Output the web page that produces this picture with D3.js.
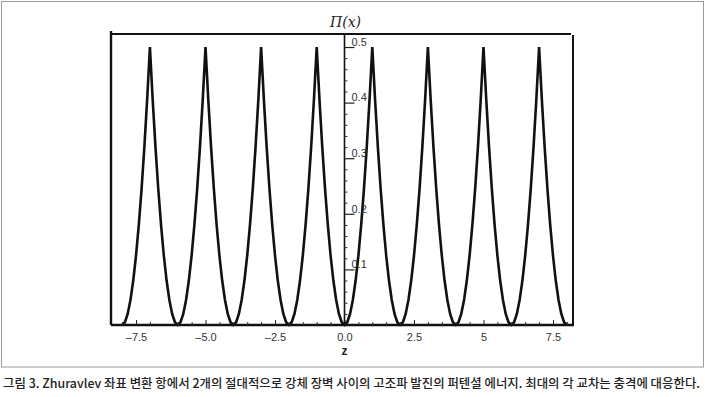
<!DOCTYPE html>
<html><head><meta charset="utf-8">
<script src="https://cdn.jsdelivr.net/npm/d3@7/dist/d3.min.js"></script>
<style>body{margin:0;background:#fff}svg{display:block}</style>
</head><body>
<svg id="chart" width="705" height="397"></svg>
<script>
// Sample positions z and potential energy values Π
const zValues = [
 -8.0,-7.9,-7.8,-7.7,-7.6,-7.5,-7.4,-7.3,-7.2,-7.1,-7.0,-6.9,-6.8,-6.7,-6.6,-6.5,-6.4,-6.3,-6.2,-6.1,
 -6.0,-5.9,-5.8,-5.7,-5.6,-5.5,-5.4,-5.3,-5.2,-5.1,-5.0,-4.9,-4.8,-4.7,-4.6,-4.5,-4.4,-4.3,-4.2,-4.1,
 -4.0,-3.9,-3.8,-3.7,-3.6,-3.5,-3.4,-3.3,-3.2,-3.1,-3.0,-2.9,-2.8,-2.7,-2.6,-2.5,-2.4,-2.3,-2.2,-2.1,
 -2.0,-1.9,-1.8,-1.7,-1.6,-1.5,-1.4,-1.3,-1.2,-1.1,-1.0,-0.9,-0.8,-0.7,-0.6,-0.5,-0.4,-0.3,-0.2,-0.1,
 0.0,0.1,0.2,0.3,0.4,0.5,0.6,0.7,0.8,0.9,1.0,1.1,1.2,1.3,1.4,1.5,1.6,1.7,1.8,1.9,
 2.0,2.1,2.2,2.3,2.4,2.5,2.6,2.7,2.8,2.9,3.0,3.1,3.2,3.3,3.4,3.5,3.6,3.7,3.8,3.9,
 4.0,4.1,4.2,4.3,4.4,4.5,4.6,4.7,4.8,4.9,5.0,5.1,5.2,5.3,5.4,5.5,5.6,5.7,5.8,5.9,
 6.0,6.1,6.2,6.3,6.4,6.5,6.6,6.7,6.8,6.9,7.0,7.1,7.2,7.3,7.4,7.5,7.6,7.7,7.8,7.9,
 8.0
];
const piValues = [
 0,0.005,0.02,0.045,0.08,0.125,0.18,0.245,0.32,0.405,0.5,0.405,0.32,0.245,0.18,0.125,0.08,0.045,0.02,0.005,
 0,0.005,0.02,0.045,0.08,0.125,0.18,0.245,0.32,0.405,0.5,0.405,0.32,0.245,0.18,0.125,0.08,0.045,0.02,0.005,
 0,0.005,0.02,0.045,0.08,0.125,0.18,0.245,0.32,0.405,0.5,0.405,0.32,0.245,0.18,0.125,0.08,0.045,0.02,0.005,
 0,0.005,0.02,0.045,0.08,0.125,0.18,0.245,0.32,0.405,0.5,0.405,0.32,0.245,0.18,0.125,0.08,0.045,0.02,0.005,
 0,0.005,0.02,0.045,0.08,0.125,0.18,0.245,0.32,0.405,0.5,0.405,0.32,0.245,0.18,0.125,0.08,0.045,0.02,0.005,
 0,0.005,0.02,0.045,0.08,0.125,0.18,0.245,0.32,0.405,0.5,0.405,0.32,0.245,0.18,0.125,0.08,0.045,0.02,0.005,
 0,0.005,0.02,0.045,0.08,0.125,0.18,0.245,0.32,0.405,0.5,0.405,0.32,0.245,0.18,0.125,0.08,0.045,0.02,0.005,
 0,0.005,0.02,0.045,0.08,0.125,0.18,0.245,0.32,0.405,0.5,0.405,0.32,0.245,0.18,0.125,0.08,0.045,0.02,0.005,
 0
];
const xTickValues = [-7.5,-5,-2.5,0,2.5,5,7.5];
const xTickLabels = ["\u20137.5","\u20135.0","\u20132.5","0.0","2.5","5","7.5"];
const xMinorTicks = [-8,-7,-6,-5.5,-4.5,-4,-3.5,-3,-2,-1.5,-1,-0.5,0.5,1,1.5,2,3,3.5,4,4.5,5.5,6,6.5,7,8];
const yTickValues = [0.1,0.2,0.3,0.4,0.5];
const yTickLabels = ["0.1","0.2","0.3","0.4","0.5"];
const yMinorTicks = [0.02,0.04,0.06,0.08,0.12,0.14,0.16,0.18,0.22,0.24,0.26,0.28,0.32,0.34,0.36,0.38,0.42,0.44,0.46,0.48];
const xLabel = "z";
const yLabel = "\u03A0(x)";
const caption = "그림 3. Zhuravlev 좌표 변환 항에서 2개의 절대적으로 강체 장벽 사이의 고조파 발진의 퍼텐셜 에너지. 최대의 각 교차는 충격에 대응한다.";

const svg = d3.select("#chart");
const L = 111, R = 573, T = 34, B = 325;
const x = d3.scaleLinear().domain([-8.4, 8.22]).range([L, R]);
const y = d3.scaleLinear().domain([0, 0.5234]).range([B, T]);

// outer gray frame
svg.append("rect").attr("x",1.5).attr("y",1.5).attr("width",702).attr("height",365.5)
  .attr("fill","none").attr("stroke","#9a9a9a").attr("stroke-width",1);

// curve
const data = zValues.map((z,i)=>({z, p: piValues[i]}));
svg.append("path").datum(data)
  .attr("fill","none").attr("stroke","#111").attr("stroke-width",2.6)
  .attr("stroke-linejoin","miter").attr("stroke-miterlimit",4)
  .attr("d", d3.line().x(d=>x(d.z)).y(d=>y(d.p)));

// frame lines
const frame = svg.append("g").attr("stroke","#111");
frame.append("line").attr("x1",L).attr("x2",L).attr("y1",T-3).attr("y2",B).attr("stroke-width",2.4);
frame.append("line").attr("x1",R).attr("x2",R).attr("y1",T+1).attr("y2",B).attr("stroke-width",2);
frame.append("line").attr("x1",L).attr("x2",R-2).attr("y1",T).attr("y2",T).attr("stroke-width",1.8);

// bottom axis
const xAxis = d3.axisBottom(x).tickValues(xTickValues).tickSize(0)
  .tickFormat((d,i)=>xTickLabels[i]).tickPadding(8);
const gx = svg.append("g").attr("transform",`translate(0,${B})`).call(xAxis);
gx.select(".domain").attr("stroke","#111").attr("stroke-width",2.4).attr("d",`M${L},0H${R+1}`);
gx.selectAll("text").attr("font-family","Liberation Sans, Arial, sans-serif").attr("font-size",11).attr("fill","#333");
const xMaj = d3.axisTop(x).tickValues(xTickValues).tickSize(5).tickFormat("");
svg.append("g").attr("transform",`translate(0,${B})`).call(xMaj)
  .call(g=>g.select(".domain").remove()).selectAll("line").attr("stroke","#222").attr("stroke-width",1);
const xMin = d3.axisTop(x).tickValues(xMinorTicks).tickSize(3).tickFormat("");
svg.append("g").attr("transform",`translate(0,${B})`).call(xMin)
  .call(g=>g.select(".domain").remove()).selectAll("line").attr("stroke","#333").attr("stroke-width",1);

// vertical axis at z = 0
const x0 = x(0);
const yAxis = d3.axisRight(y).tickValues(yTickValues).tickSize(10)
  .tickFormat((d,i)=>yTickLabels[i]).tickPadding(-3);
const gy = svg.append("g").attr("transform",`translate(${x0},0)`).call(yAxis);
gy.select(".domain").attr("stroke","#111").attr("stroke-width",1.6).attr("d",`M0,${B}V${T+1}`);
gy.selectAll(".tick line").attr("stroke","#222").attr("stroke-width",1.2);
gy.selectAll("text").attr("font-family","Liberation Sans, Arial, sans-serif").attr("font-size",11)
  .attr("fill","#333").attr("dy","-0.15em").attr("x",7);
const yMin = d3.axisRight(y).tickValues(yMinorTicks).tickSize(3).tickFormat("");
svg.append("g").attr("transform",`translate(${x0},0)`).call(yMin)
  .call(g=>g.select(".domain").remove()).selectAll("line").attr("stroke","#333").attr("stroke-width",1);

// axis labels
svg.append("text").attr("x",x0+1).attr("y",27).attr("text-anchor","middle")
  .attr("font-family","DejaVu Serif, Liberation Serif, serif").attr("font-style","italic")
  .attr("font-size",14).attr("fill","#222").text(yLabel);
svg.append("text").attr("x",x0).attr("y",355).attr("text-anchor","middle")
  .attr("font-family","Liberation Sans, Arial, sans-serif").attr("font-weight","bold")
  .attr("font-size",12).attr("fill","#222").text(xLabel);

// caption
svg.append("text").attr("x",3).attr("y",388)
  .attr("font-family","Noto Sans CJK KR, sans-serif").attr("font-size",12.5).attr("font-weight",500)
  .attr("fill","#222").attr("textLength",697).attr("lengthAdjust","spacingAndGlyphs")
  .text(caption);
</script>
</body></html>
